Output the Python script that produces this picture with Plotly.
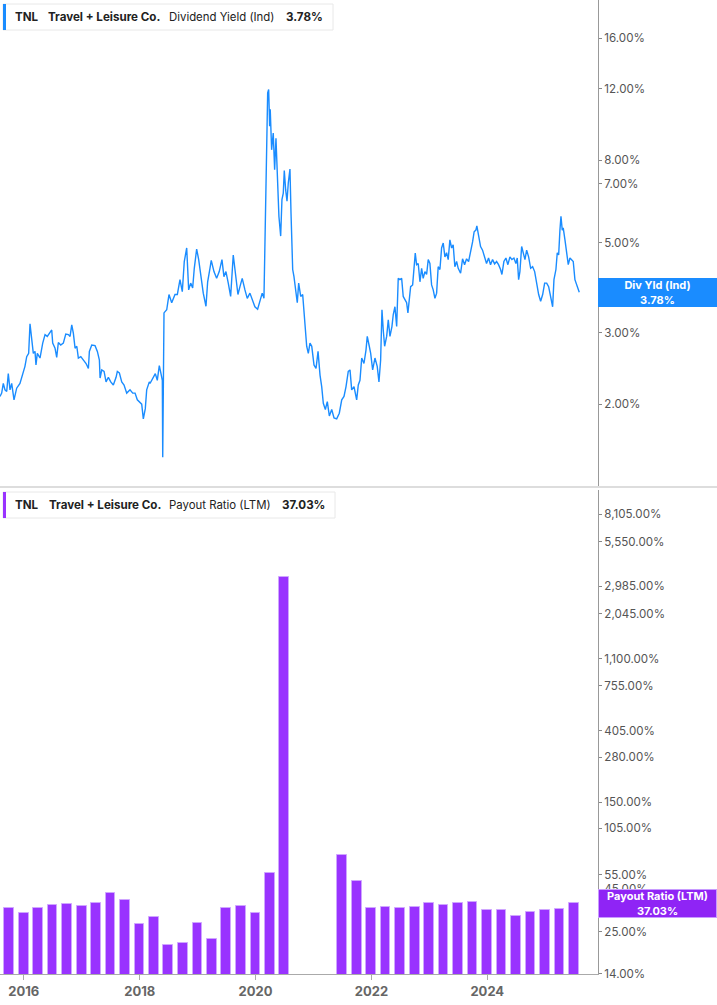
import math
import pandas as pd
import plotly.graph_objects as go

# ---------------- data ----------------
# Dividend yield (Ind), % — sampled along the trace (decimal year, value)
yield_years = [
    2015.589, 2015.618, 2015.646, 2015.675, 2015.705, 2015.732, 2015.762, 2015.791, 2015.831, 2015.877,
    2015.934, 2015.981, 2016.020, 2016.050, 2016.084, 2016.107, 2016.136, 2016.164, 2016.193, 2016.210,
    2016.233, 2016.279, 2016.326, 2016.366, 2016.405, 2016.440, 2016.481, 2016.498, 2016.538, 2016.567,
    2016.595, 2016.636, 2016.681, 2016.723, 2016.768, 2016.797, 2016.826, 2016.854, 2016.883, 2016.913,
    2016.940, 2016.982, 2017.026, 2017.073, 2017.113, 2017.130, 2017.171, 2017.228, 2017.268, 2017.303,
    2017.315, 2017.344, 2017.384, 2017.418, 2017.458, 2017.499, 2017.544, 2017.591, 2017.613, 2017.648,
    2017.689, 2017.729, 2017.775, 2017.832, 2017.879, 2017.919, 2017.958, 2017.993, 2018.034, 2018.062,
    2018.096, 2018.120, 2018.165, 2018.177, 2018.224, 2018.269, 2018.303, 2018.338, 2018.372, 2018.390,
    2018.397, 2018.419, 2018.466, 2018.505, 2018.552, 2018.609, 2018.649, 2018.695, 2018.735, 2018.769,
    2018.811, 2018.845, 2018.880, 2018.914, 2018.942, 2018.983, 2019.018, 2019.052, 2019.097, 2019.144,
    2019.173, 2019.213, 2019.235, 2019.282, 2019.328, 2019.373, 2019.420, 2019.454, 2019.489, 2019.529,
    2019.570, 2019.615, 2019.649, 2019.696, 2019.731, 2019.770, 2019.817, 2019.857, 2019.903, 2019.950,
    2019.989, 2020.036, 2020.076, 2020.115, 2020.145, 2020.162, 2020.179, 2020.191, 2020.209, 2020.226,
    2020.243, 2020.253, 2020.277, 2020.305, 2020.329, 2020.352, 2020.374, 2020.403, 2020.433, 2020.455,
    2020.478, 2020.495, 2020.519, 2020.542, 2020.564, 2020.593, 2020.611, 2020.640, 2020.662, 2020.697,
    2020.719, 2020.743, 2020.778, 2020.812, 2020.835, 2020.857, 2020.881, 2020.909, 2020.938, 2020.968,
    2021.007, 2021.042, 2021.077, 2021.111, 2021.140, 2021.168, 2021.203, 2021.237, 2021.272, 2021.313,
    2021.353, 2021.399, 2021.444, 2021.486, 2021.525, 2021.560, 2021.599, 2021.629, 2021.658, 2021.698,
    2021.744, 2021.772, 2021.801, 2021.831, 2021.870, 2021.905, 2021.927, 2021.962, 2021.986, 2022.020,
    2022.060, 2022.099, 2022.129, 2022.158, 2022.181, 2022.203, 2022.227, 2022.262, 2022.290, 2022.319,
    2022.353, 2022.376, 2022.405, 2022.435, 2022.462, 2022.491, 2022.521, 2022.548, 2022.578, 2022.607,
    2022.629, 2022.652, 2022.676, 2022.711, 2022.733, 2022.756, 2022.779, 2022.807, 2022.837, 2022.866,
    2022.893, 2022.923, 2022.952, 2022.980, 2023.009, 2023.038, 2023.066, 2023.096, 2023.125, 2023.152,
    2023.182, 2023.211, 2023.239, 2023.268, 2023.297, 2023.325, 2023.354, 2023.384, 2023.411, 2023.440,
    2023.470, 2023.498, 2023.539, 2023.573, 2023.608, 2023.642, 2023.677, 2023.711, 2023.746, 2023.773,
    2023.803, 2023.820, 2023.849, 2023.884, 2023.918, 2023.953, 2023.987, 2024.022, 2024.056, 2024.091,
    2024.126, 2024.160, 2024.194, 2024.229, 2024.252, 2024.286, 2024.321, 2024.355, 2024.390, 2024.424,
    2024.459, 2024.493, 2024.516, 2024.540, 2024.562, 2024.592, 2024.619, 2024.649, 2024.678, 2024.712,
    2024.747, 2024.781, 2024.816, 2024.850, 2024.885, 2024.919, 2024.954, 2024.988, 2025.023, 2025.057,
    2025.092, 2025.126, 2025.149, 2025.183, 2025.206, 2025.230, 2025.252, 2025.270, 2025.292, 2025.309,
    2025.339, 2025.368, 2025.396, 2025.425, 2025.454, 2025.482, 2025.511, 2025.541, 2025.568, 2025.586,
]
yield_values = [
    2.09, 2.13, 2.25, 2.17, 2.15, 2.38, 2.17, 2.25, 2.05, 2.19,
    2.25, 2.36, 2.48, 2.62, 2.67, 3.16, 2.84, 2.67, 2.70, 2.50,
    2.67, 2.60, 2.83, 2.97, 2.94, 2.99, 3.05, 2.83, 2.75, 2.61,
    2.84, 2.80, 2.83, 2.98, 2.97, 2.94, 3.14, 2.99, 2.75, 2.78,
    2.60, 2.62, 2.57, 2.52, 2.45, 2.70, 2.80, 2.79, 2.70, 2.57,
    2.32, 2.43, 2.41, 2.27, 2.33, 2.27, 2.23, 2.33, 2.41, 2.39,
    2.27, 2.23, 2.13, 2.17, 2.13, 2.13, 2.05, 2.03, 2.00, 1.84,
    1.95, 2.17, 2.27, 2.25, 2.32, 2.38, 2.29, 2.49, 2.36, 2.29,
    1.48, 3.36, 3.42, 3.73, 3.56, 3.73, 3.73, 4.06, 3.79, 4.50,
    4.86, 3.83, 3.98, 3.87, 4.33, 4.83, 4.55, 4.13, 3.76, 3.49,
    4.01, 4.33, 4.53, 4.25, 4.09, 4.25, 4.55, 4.13, 4.25, 3.98,
    3.69, 4.67, 4.21, 3.73, 3.90, 4.09, 3.83, 3.65, 3.76, 3.62,
    3.48, 3.43, 3.59, 3.76, 3.65, 4.90, 5.93, 7.58, 11.74, 11.96,
    9.71, 10.69, 8.49, 9.34, 7.58, 9.07, 7.72, 5.81, 5.20, 6.40,
    6.64, 7.55, 6.76, 6.34, 7.03, 7.61, 5.93, 4.30, 4.13, 3.83,
    3.56, 3.98, 3.69, 3.73, 3.36, 3.11, 2.78, 2.67, 2.83, 2.78,
    2.50, 2.45, 2.70, 2.36, 2.21, 2.01, 1.94, 2.03, 1.87, 1.94,
    1.85, 1.84, 1.90, 2.05, 2.09, 2.21, 2.41, 2.43, 2.17, 2.21,
    2.05, 2.23, 2.29, 2.60, 2.52, 2.72, 2.94, 2.78, 2.67, 2.43,
    2.60, 2.48, 2.27, 2.57, 3.42, 3.05, 2.78, 2.94, 3.23, 2.94,
    3.11, 3.33, 3.48, 3.11, 4.09, 4.06, 4.09, 3.69, 3.62, 3.56,
    3.36, 3.69, 3.90, 3.94, 4.37, 4.72, 4.42, 4.45, 4.01, 4.33,
    4.09, 4.25, 4.18, 4.55, 4.45, 3.94, 3.83, 3.65, 3.76, 4.37,
    4.30, 4.86, 5.00, 4.62, 4.73, 4.55, 5.09, 4.86, 4.95, 4.37,
    4.50, 4.33, 4.21, 4.57, 4.42, 4.57, 4.50, 4.73, 5.03, 5.33,
    5.38, 5.51, 5.24, 4.90, 4.80, 4.59, 4.45, 4.59, 4.42, 4.55,
    4.44, 4.50, 4.42, 4.30, 4.18, 4.50, 4.59, 4.42, 4.62, 4.55,
    4.59, 4.45, 4.59, 4.06, 4.25, 4.90, 4.73, 4.55, 4.80, 4.62,
    4.33, 4.37, 4.25, 3.98, 3.73, 3.59, 3.73, 3.98, 3.98, 3.90,
    3.69, 3.48, 4.06, 4.30, 4.73, 4.67, 5.38, 5.82, 5.38, 5.45,
    5.09, 4.72, 4.42, 4.59, 4.55, 4.50, 4.06, 3.94, 3.87, 3.78,
]

# Payout ratio (LTM), % — quarterly
payout_dates = [
    "2015-09-30", "2015-12-31", "2016-03-31", "2016-06-30", "2016-09-30", "2016-12-31",
    "2017-03-31", "2017-06-30", "2017-09-30", "2017-12-31", "2018-03-31", "2018-06-30",
    "2018-09-30", "2018-12-31", "2019-03-31", "2019-06-30", "2019-09-30", "2019-12-31",
    "2020-03-31", "2020-06-30",
    "2021-06-30", "2021-09-30", "2021-12-31", "2022-03-31", "2022-06-30", "2022-09-30",
    "2022-12-31", "2023-03-31", "2023-06-30", "2023-09-30", "2023-12-31", "2024-03-31",
    "2024-06-30", "2024-09-30", "2024-12-31", "2025-03-31", "2025-06-30",
]
payout_values = [
    34.9, 32.6, 34.9, 36.1, 36.6, 35.9,
    37.1, 43.0, 39.0, 28.0, 30.5, 20.7,
    21.3, 28.4, 22.7, 34.7, 35.9, 32.3,
    56.2, 3390.0,
    72.4, 50.8, 34.7, 35.1, 34.6, 35.1,
    37.4, 36.4, 37.1, 37.6, 33.8, 33.8,
    31.3, 32.7, 34.0, 34.1, 37.03,
]

top_ticks = [2, 3, 5, 7, 8, 12, 16]
bottom_ticks = [14, 25, 45, 55, 105, 150, 280, 405, 755, 1100, 2045, 2985, 5550, 8105]
year_ticks = ["2016-01-01", "2018-01-01", "2020-01-01", "2022-01-01", "2024-01-01"]
year_labels = ["2016", "2018", "2020", "2022", "2024"]

ticker = "TNL"
company = "Travel + Leisure Co."
top_name, top_short, top_last = "Dividend Yield (Ind)", "Div Yld (Ind)", yield_values[-1]
bot_name, bot_last = "Payout Ratio (LTM)", payout_values[-1]


# ---------------- helpers ----------------
def dec_to_date(y):
    yr = int(y)
    start = pd.Timestamp(year=yr, month=1, day=1)
    end = pd.Timestamp(year=yr + 1, month=1, day=1)
    return start + (end - start) * (y - yr)


yield_dates = [dec_to_date(v) for v in yield_years]

BLUE = "#1a8cff"
PURPLE = "#9933ff"
FONT = "Inter, Roboto, sans-serif"
W, H = 717, 1005
ML, MR, MT, MB = 0, 119, 0, 31
PW, PH = W - ML - MR, H - MT - MB


def px(x):
    return (x - ML) / PW


def py(y):
    return (H - MB - y) / PH


fig = go.Figure()

fig.add_trace(go.Scatter(
    x=yield_dates, y=yield_values, mode="lines",
    line=dict(color=BLUE, width=1.4), xaxis="x", yaxis="y",
    showlegend=False, hoverinfo="skip",
))

fig.add_trace(go.Bar(
    x=pd.to_datetime(payout_dates), y=payout_values,
    marker=dict(color=PURPLE, line=dict(color="#cfa6ff", width=1)),
    width=5.3e9, xaxis="x2", yaxis="y2", showlegend=False, hoverinfo="skip",
))

x_range = ["2015-08-04", "2025-11-29"]
TICKFONT = dict(family=FONT, size=11.6, color="#555")

fig.update_layout(
    width=W, height=H,
    margin=dict(l=ML, r=MR, t=MT, b=MB, pad=0),
    paper_bgcolor="white", plot_bgcolor="white",
    font=dict(family=FONT, color="#555", size=11),
    bargap=0,
    xaxis=dict(domain=[0, 1], anchor="y", range=x_range, type="date",
               showticklabels=False, showgrid=False, zeroline=False,
               showline=False, ticks="", matches="x2"),
    xaxis2=dict(domain=[0, 1], anchor="y2", range=x_range, type="date",
                tickmode="array", tickvals=year_ticks, ticktext=year_labels,
                tickfont=dict(family=FONT, size=13, color="#666", weight="bold"),
                showgrid=False, zeroline=False, showline=True, linecolor="#aaaaaa",
                linewidth=1, ticks="outside", ticklen=5, tickcolor="#aaaaaa"),
    yaxis=dict(domain=[py(487), 1], anchor="x", type="log",
               range=[math.log10(1.249), math.log10(19.9)], side="right",
               tickmode="array", tickvals=top_ticks,
               ticktext=[f"{v:.2f}%" for v in top_ticks],
               showgrid=False, zeroline=False, showline=True, linecolor="#999999",
               linewidth=1, ticks="outside", ticklen=3, tickcolor="#888888",
               tickfont=TICKFONT),
    yaxis2=dict(domain=[0, py(490)], anchor="x2", type="log",
                range=[math.log10(13.95), math.log10(11327)], side="right",
                tickmode="array", tickvals=bottom_ticks,
                ticktext=[f"{v:,.2f}%" for v in bottom_ticks],
                showgrid=False, zeroline=False, showline=True, linecolor="#999999",
                linewidth=1, ticks="outside", ticklen=3, tickcolor="#888888",
                tickfont=TICKFONT),
)

shapes = []
annotations = []

# divider between panels
shapes.append(dict(type="line", xref="paper", yref="paper", x0=px(0), x1=px(717),
                   y0=py(487), y1=py(487), line=dict(color="#dddddd", width=2)))


def legend_box(top, bottom, right, color, name, value, xs):
    shapes.append(dict(type="rect", xref="paper", yref="paper",
                       x0=px(3), x1=px(right), y0=py(bottom), y1=py(top),
                       line=dict(color="#e8e8e8", width=1), fillcolor="white"))
    shapes.append(dict(type="rect", xref="paper", yref="paper",
                       x0=px(3), x1=px(6), y0=py(bottom), y1=py(top),
                       line=dict(width=0), fillcolor=color))
    ymid = py((top + bottom) / 2)
    pieces = [(ticker, True), (company, True), (name, False), (f"{value:.2f}%", True)]
    for x, (t, bold) in zip(xs, pieces):
        annotations.append(dict(
            x=px(x), y=ymid, xref="paper", yref="paper",
            text=f"<b>{t}</b>" if bold else t,
            showarrow=False, xanchor="left", yanchor="middle",
            font=dict(family=FONT, size=11.6 if bold else 11.4, color="#222")))


legend_box(4, 30, 333, BLUE, top_name, top_last, [13, 46, 166.5, 284])
legend_box(492, 518, 335, PURPLE, bot_name, bot_last, [13, 46.5, 166.5, 279.5])

# last-value labels on the right axis
annotations.append(dict(x=1, y=math.log10(top_last), xref="paper", yref="y",
                        text=f"<b>{top_short}<br>{top_last:.2f}%</b>",
                        showarrow=False, xanchor="left", yanchor="middle",
                        align="center", width=115, height=25, borderpad=2,
                        bgcolor=BLUE, borderwidth=0,
                        font=dict(family=FONT, size=11, color="white")))
annotations.append(dict(x=1, y=math.log10(bot_last), xref="paper", yref="y2",
                        text=f"<b>{bot_name}<br>{bot_last:.2f}%</b>",
                        showarrow=False, xanchor="left", yanchor="middle",
                        align="center", width=115, height=25, borderpad=1,
                        bgcolor="#8f24f5", bordercolor="#c89bff", borderwidth=1,
                        font=dict(family=FONT, size=11, color="white")))

fig.update_layout(shapes=shapes, annotations=annotations)

fig.write_html("out.html",
               config={"displayModeBar": False},
               post_script="document.body.style.margin='0';"
                           "document.body.style.overflow='hidden';")
